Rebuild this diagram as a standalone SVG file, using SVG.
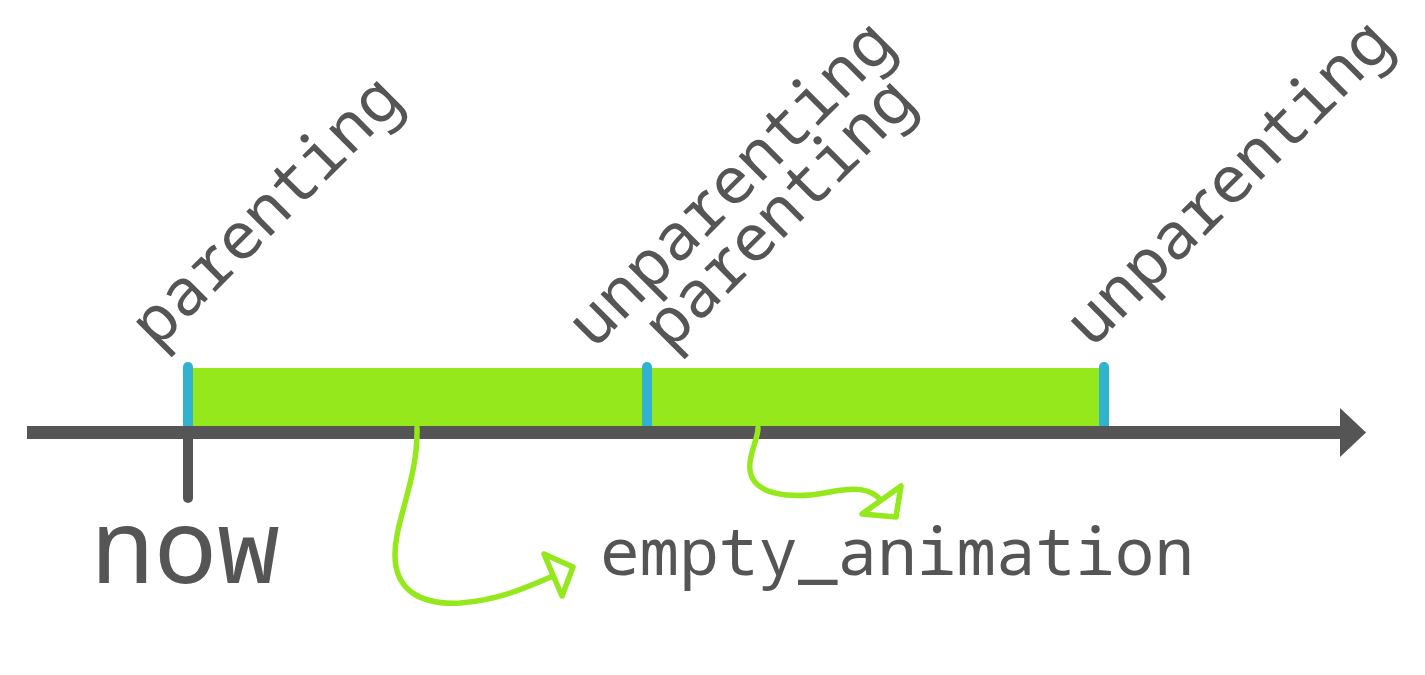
<svg xmlns="http://www.w3.org/2000/svg" width="1425" height="675" viewBox="0 0 1425 675">
<style>
.lbl{font-family:"Noto Sans Mono","Droid Sans Mono","DejaVu Sans Mono","Liberation Mono",monospace;fill:#555555}
.rot{font-size:65px}
.blue{stroke:#31b2cf;stroke-width:10;stroke-linecap:round}
.seg{fill:#94e81c}
.conn{fill:none;stroke:#94e81c;stroke-width:5.5;stroke-linecap:round;stroke-linejoin:round}
.head{fill:#ffffff;stroke:#94e81c;stroke-width:5.5;stroke-linejoin:round}
</style>
<rect width="1425" height="675" fill="#ffffff"/>
<g id="segments">
<rect class="seg" x="188" y="368" width="459" height="60"/>
<rect class="seg" x="647" y="368" width="457" height="60"/>
</g>
<g id="ticks">
<line class="blue" x1="188" y1="367" x2="188" y2="428"/>
<line class="blue" x1="647" y1="367" x2="647" y2="428"/>
<line class="blue" x1="1104" y1="367" x2="1104" y2="428"/>
</g>
<g id="axis">
<line x1="27" y1="432.5" x2="1342" y2="432.5" stroke="#555555" stroke-width="13"/>
<polygon points="1340,408 1366,432.5 1340,457" fill="#555555"/>
<line x1="188" y1="432" x2="188" y2="498" stroke="#555555" stroke-width="10" stroke-linecap="round"/>
</g>
<g id="label-now"><text class="lbl" x="91" y="583" font-size="105">now</text></g>
<g id="label-empty"><text class="lbl" x="600" y="575" font-size="66">empty_animation</text></g>
<g id="label-parenting-1"><text class="lbl rot" transform="translate(157,350) rotate(-45)">parenting</text></g>
<g id="label-unparenting-1"><text class="lbl rot" transform="translate(594,350) rotate(-45)">unparenting</text></g>
<g id="label-parenting-2"><text class="lbl rot" transform="translate(670,352) rotate(-45)">parenting</text></g>
<g id="label-unparenting-2"><text class="lbl rot" transform="translate(1092,349) rotate(-45)">unparenting</text></g>
<g id="connectors">
<path class="conn" d="M417,428 C418,480 395,520 395,555 C395,590 420,605 460,603 C500,600 530,586 553,576"/>
<polygon class="head" points="544,554 573,567 562,596"/>
<path class="conn" d="M758,428 C758,440 748,455 750,470 C753,495 790,500 830,492 C855,487 870,488 881,500"/>
<polygon class="head" points="862,514 901,486 896,517"/>
</g>
</svg>
